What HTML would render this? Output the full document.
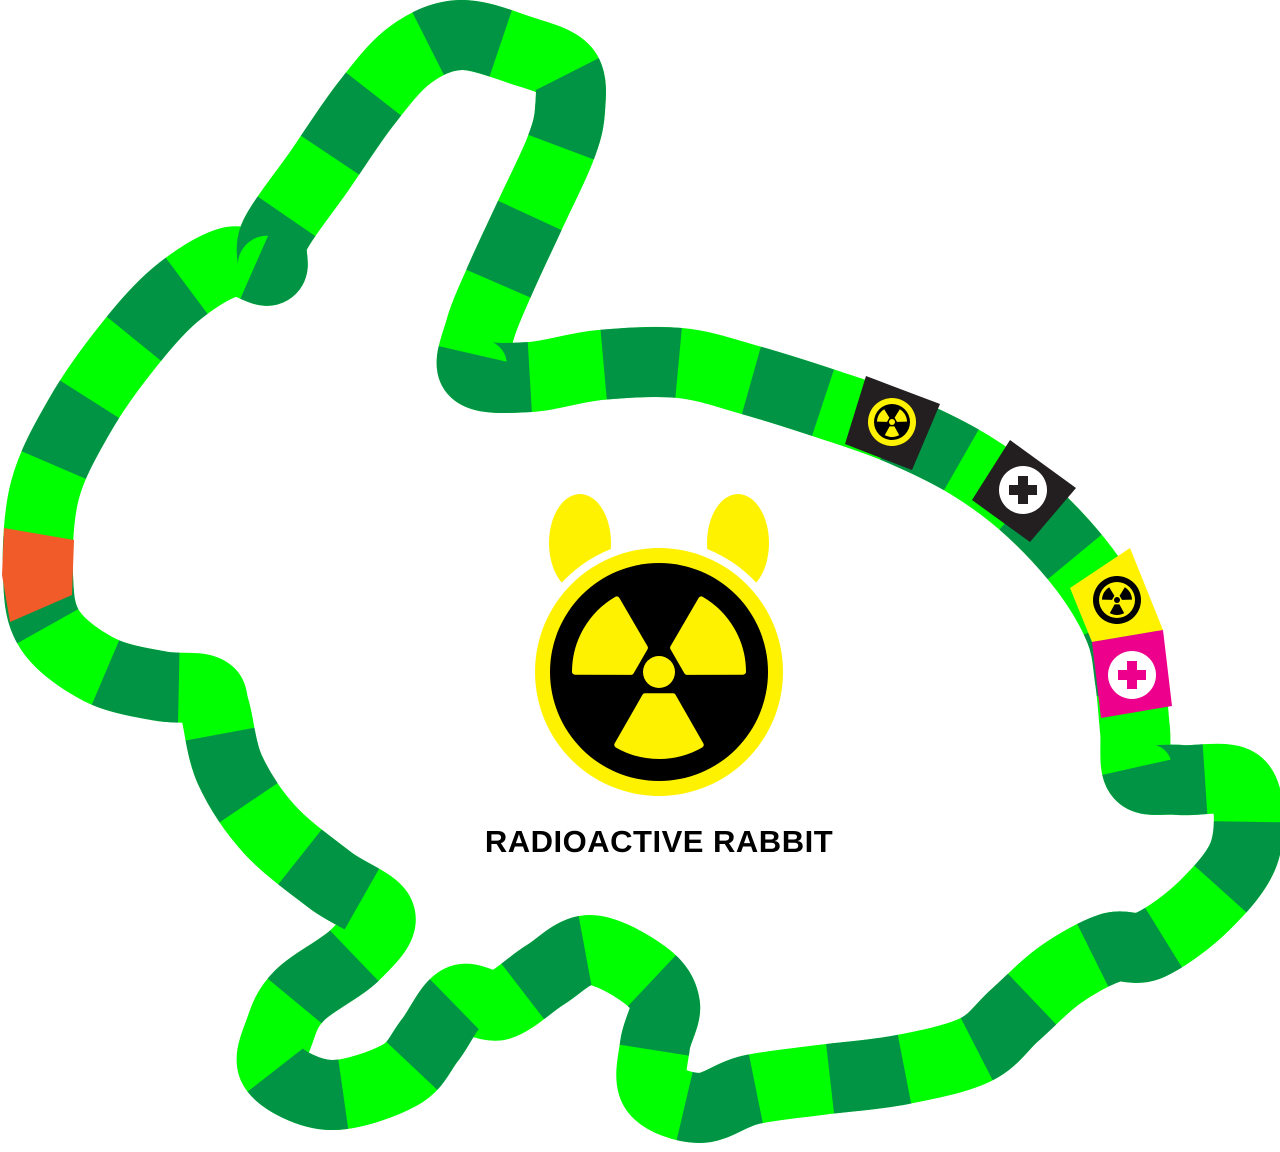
<!DOCTYPE html>
<html><head><meta charset="utf-8"><style>
html,body{margin:0;padding:0;background:#fff}
svg{display:block}
</style></head><body>
<svg id="board" width="1280" height="1152" viewBox="0 0 1280 1152">
<g id="track"></g>
<g id="special"></g>
<g>
  <ellipse cx="580" cy="543" rx="31" ry="49" fill="#fff200"/>
  <ellipse cx="738" cy="543" rx="31" ry="49" fill="#fff200"/>
  <circle cx="659" cy="672" r="132" fill="#fff"/>
  <circle cx="659" cy="672" r="124" fill="#fff200"/>
  <circle cx="659" cy="672" r="109" fill="#000"/>
  <g id="trefoil" fill="#fff200"></g>
  <circle cx="659" cy="672" r="16" fill="#fff200"/>
</g>
<text x="659" y="852" text-anchor="middle" font-family="Liberation Sans, sans-serif" font-weight="bold" font-size="31" letter-spacing="0.5" fill="#000">RADIOACTIVE RABBIT</text>
</svg>
<script>
var NS='http://www.w3.org/2000/svg';
var pathX=[38,45,80,125,175,230,270,275,320,365,410,460,520,565,570,560,530,500,480,475,530,600,680,750,830,900,970,1030,1085,1120,1130,1135,1140,1180,1240,1245,1205,1150,1110,1060,1015,975,900,820,750,700,655,655,665,645,590,545,500,460,430,400,330,275,280,300,355,380,330,270,230,215,205,160,100,50];
var pathY=[575,490,415,350,295,262,270,235,170,105,55,35,50,70,110,150,215,280,330,372,377,365,363,380,405,430,465,510,570,630,680,730,775,780,785,850,905,945,948,975,1015,1050,1070,1080,1090,1108,1090,1045,1005,975,950,975,1005,1000,1040,1075,1095,1070,1030,995,955,915,880,830,770,710,690,686,670,630];
var tile=75;
var n=pathX.length;
var d='M'+pathX[0]+' '+pathY[0]+' ';
for(var i=0;i<n;i++){
 var i0=(i-1+n)%n,i2=(i+1)%n,i3=(i+2)%n;
 var c1x=pathX[i]+(pathX[i2]-pathX[i0])/6,c1y=pathY[i]+(pathY[i2]-pathY[i0])/6;
 var c2x=pathX[i2]-(pathX[i3]-pathX[i])/6,c2y=pathY[i2]-(pathY[i3]-pathY[i])/6;
 d+='C'+c1x.toFixed(1)+' '+c1y.toFixed(1)+' '+c2x.toFixed(1)+' '+c2y.toFixed(1)+' '+pathX[i2]+' '+pathY[i2]+' ';
}
d+='Z';
var track=document.getElementById('track');
var p1=document.createElementNS(NS,'path');


p1.setAttribute('d',d);p1.setAttribute('fill','none');p1.setAttribute('stroke','#00ff00');p1.setAttribute('stroke-width','70');p1.setAttribute('stroke-linejoin','round');
track.appendChild(p1);
var p2=document.createElementNS(NS,'path');


p2.setAttribute('d',d);p2.setAttribute('fill','none');p2.setAttribute('stroke','#009444');p2.setAttribute('stroke-width','70');p2.setAttribute('stroke-dasharray',tile+' '+tile);p2.setAttribute('stroke-dashoffset','38');
track.appendChild(p2);

var special=document.getElementById('special');
var tiles=[
 {name:'orange-start-tile',pts:'4,528 74,540 72,595 10,622 2,575',fill:'#f15a29',icon:''},
 {name:'radiation-tile-1',pts:'866,376 940,404 912,470 845,444',fill:'#231f20',icon:'rad',cx:892,cy:422,ic:'#fff200'},
 {name:'health-tile-1',pts:'1010,440 1076,488 1030,542 972,500',fill:'#231f20',icon:'plus',cx:1023,cy:490,ic:'#fff'},
 {name:'radiation-tile-2',pts:'1070,588 1130,548 1163,630 1092,642',fill:'#fff200',icon:'rad',cx:1117,cy:600,ic:'#000'},
 {name:'health-tile-2',pts:'1092,642 1163,630 1172,706 1101,718',fill:'#ec008c',icon:'plus',cx:1132,cy:675,ic:'#fff'}
];
tiles.forEach(function(t){
 var pg=document.createElementNS(NS,'polygon');
 
 
 pg.setAttribute('points',t.pts);pg.setAttribute('fill',t.fill);
 special.appendChild(pg);
 if(t.icon){
  var c=document.createElementNS(NS,'circle');
  
  
  c.setAttribute('cx',t.cx);c.setAttribute('cy',t.cy);c.setAttribute('r',24);c.setAttribute('fill',t.ic);
  special.appendChild(c);
  var inner=t.icon==='plus'?'#231f20':(t.ic==='#000'?'#fff200':'#000');
  if(t.icon==='plus'){
   if(t.fill==='#ec008c')inner='#ec008c';
   var g=document.createElementNS(NS,'path');
   g.setAttribute('d','M'+(t.cx-5)+' '+(t.cy-14)+'h10v9h9v10h-9v9h-10v-9h-9v-10h9z');
   g.setAttribute('fill',inner);
   special.appendChild(g);
  } else {
   var c2=document.createElementNS(NS,'circle');
   c2.setAttribute('cx',t.cx);c2.setAttribute('cy',t.cy);c2.setAttribute('r',18);c2.setAttribute('fill',inner);
   special.appendChild(c2);
   for(var k=0;k<3;k++){
    var a=[210,330,90][k]*Math.PI/180,s=0.5;
    var r1=5,r2=15,cx=t.cx,cy=t.cy;
    var bp=document.createElementNS(NS,'path');
    bp.setAttribute('d','M'+(cx+r1*Math.cos(a-s))+' '+(cy+r1*Math.sin(a-s))+'L'+(cx+r2*Math.cos(a-s))+' '+(cy+r2*Math.sin(a-s))+'A'+r2+' '+r2+' 0 0 1 '+(cx+r2*Math.cos(a+s))+' '+(cy+r2*Math.sin(a+s))+'L'+(cx+r1*Math.cos(a+s))+' '+(cy+r1*Math.sin(a+s))+'Z');
    bp.setAttribute('fill',t.ic);
    special.appendChild(bp);
   }
   var dot=document.createElementNS(NS,'circle');
   dot.setAttribute('cx',t.cx);dot.setAttribute('cy',t.cy);dot.setAttribute('r',3);dot.setAttribute('fill',t.ic);
   special.appendChild(dot);
  }
 }
});

var tre=document.getElementById('trefoil');
[210,330,90].forEach(function(deg,k){
 var a=deg*Math.PI/180,s=0.52,cx=659,cy=672,r1=28,r2=84;
 var bp=document.createElementNS(NS,'path');
 
 
 bp.setAttribute('d','M'+(cx+r1*Math.cos(a-s))+' '+(cy+r1*Math.sin(a-s))+'L'+(cx+r2*Math.cos(a-s))+' '+(cy+r2*Math.sin(a-s))+'A'+r2+' '+r2+' 0 0 1 '+(cx+r2*Math.cos(a+s))+' '+(cy+r2*Math.sin(a+s))+'L'+(cx+r1*Math.cos(a+s))+' '+(cy+r1*Math.sin(a+s))+'Z');
 bp.setAttribute('stroke','#fff200');bp.setAttribute('stroke-width','6');bp.setAttribute('stroke-linejoin','round');
 tre.appendChild(bp);
});
</script>
</body></html>
